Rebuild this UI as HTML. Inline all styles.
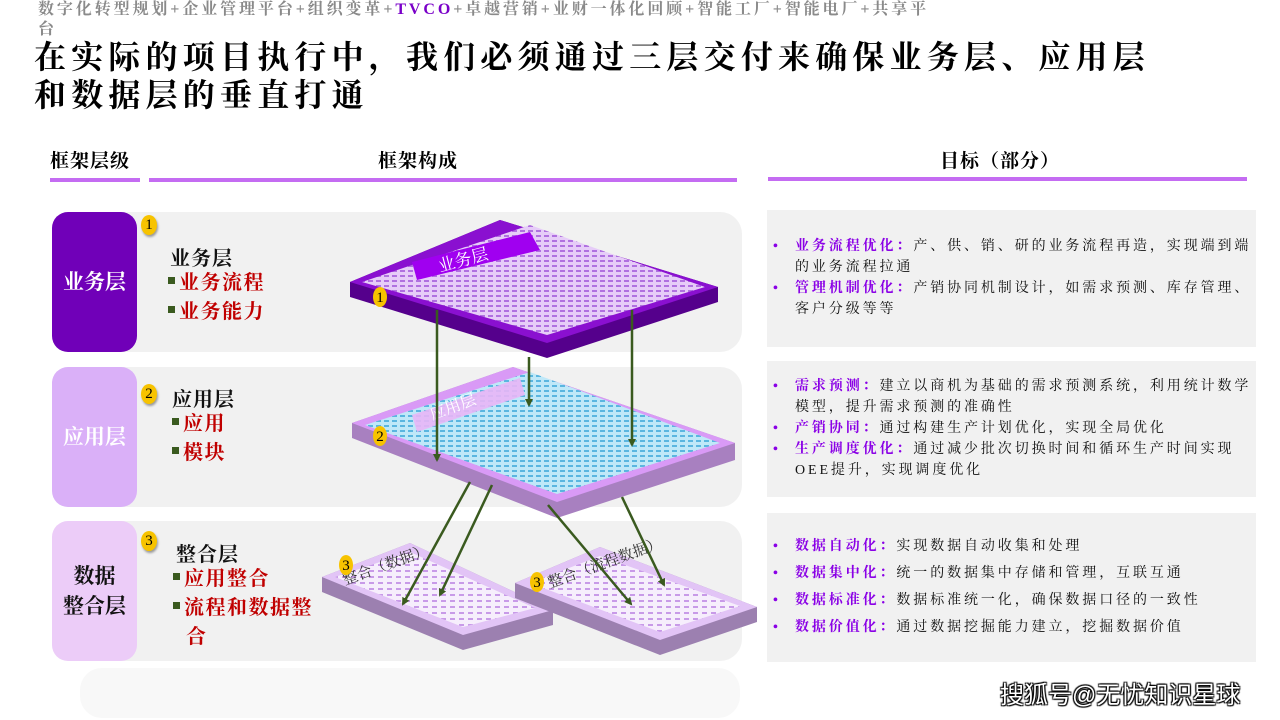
<!DOCTYPE html>
<html><head><meta charset="utf-8"><style>
body{margin:0;width:1280px;height:720px;background:#fff;position:relative;overflow:hidden;font-family:"Liberation Serif","Noto Serif CJK SC",serif;}
.a{position:absolute;}
.sub{left:38px;top:0;width:905px;font-size:16px;line-height:20px;color:#8a8a8a;font-weight:bold;letter-spacing:2.9px}
.title{left:34px;top:38px;font-size:32px;line-height:38px;font-weight:bold;color:#000;letter-spacing:5.2px}
.hd{font-size:19px;font-weight:bold;color:#000;top:146px;letter-spacing:1px}
.line{height:4px;background:#c46cf2;top:178px}
.panel{background:#f1f1f1;border-radius:22px;left:60px;width:682px;height:140px}
.lb{left:52px;width:85px;height:140px;border-radius:16px;display:flex;align-items:center;justify-content:center;text-align:center;font-size:21px;font-weight:bold;line-height:30px}
.badge{width:16px;height:20px;border-radius:50%;background:#f7c300;font-size:15px;line-height:20px;text-align:center;color:#000;font-family:"Liberation Serif",serif;box-shadow:1px 2px 2px #999}
.ttl{font-size:20px;font-weight:bold;color:#111;letter-spacing:1px}
.it{font-size:20px;font-weight:bold;color:#c00000;line-height:29px;letter-spacing:1.5px}
.it i{display:inline-block;width:7px;height:7px;background:#3a5a1f;margin-right:4px;vertical-align:middle;position:relative;top:-4px}
.rb{left:767px;width:489px;background:#f1f1f1;font-size:14px;line-height:21px;color:#111;letter-spacing:2.9px}
.rb ul{margin:0;padding:0 0 0 28px;list-style:none}
.rb li{position:relative;margin-bottom:0}
.rb li:before{content:"•";position:absolute;left:-22px;color:#8a00e6;font-weight:bold}
.rb b{color:#8a00e6}
</style></head><body>
<div class="a sub">数字化转型规划+企业管理平台+组织变革+<span style="color:#7a00c8">TVCO</span>+卓越营销+业财一体化回顾+智能工厂+智能电厂+共享平台</div>
<div class="a title">在实际的项目执行中，我们必须通过三层交付来确保业务层、应用层<br>和数据层的垂直打通</div>
<div class="a hd" style="left:50px">框架层级</div>
<div class="a hd" style="left:378px">框架构成</div>
<div class="a hd" style="left:940px">目标（部分）</div>
<div class="a line" style="left:50px;width:90px"></div>
<div class="a line" style="left:149px;width:588px"></div>
<div class="a line" style="left:768px;width:479px;top:177px"></div>

<div class="a panel" style="top:212px"></div>
<div class="a panel" style="top:367px"></div>
<div class="a panel" style="top:521px"></div>
<div class="a panel" style="top:668px;height:50px;left:80px;width:660px;background:#f8f8f8"></div>

<div class="a lb" style="top:212px;background:#7000b8;color:#fff">业务层</div>
<div class="a lb" style="top:367px;background:#dab0f8;color:#fff">应用层</div>
<div class="a lb" style="top:521px;background:#ecccf8;color:#111">数据<br>整合层</div>

<div class="a badge" style="left:141px;top:215px">1</div>
<div class="a badge" style="left:141px;top:384px">2</div>
<div class="a badge" style="left:141px;top:531px">3</div>

<div class="a ttl" style="left:170px;top:242px">业务层</div>
<div class="a it" style="left:168px;top:269px"><i></i>业务流程<br><i></i>业务能力</div>
<div class="a ttl" style="left:172px;top:383px">应用层</div>
<div class="a it" style="left:172px;top:410px"><i></i>应用<br><i></i>模块</div>
<div class="a ttl" style="left:176px;top:538px">整合层</div>
<div class="a it" style="left:173px;top:565px;width:160px"><i></i>应用整合<br><i></i>流程和数据整<br>&nbsp;&nbsp;合</div>

<svg class="a" style="left:0;top:0" width="1280" height="720">
<defs>
<pattern id="p1" width="8" height="5" patternUnits="userSpaceOnUse"><rect width="8" height="5" fill="#e6ccf8"/><rect width="5" height="2" fill="#b070e0"/></pattern>
<pattern id="p2" width="8" height="5" patternUnits="userSpaceOnUse"><rect width="8" height="5" fill="#bfe8f8"/><rect width="5" height="2" fill="#5ab6e0"/></pattern>
<pattern id="p3" width="9" height="6" patternUnits="userSpaceOnUse"><rect width="9" height="6" fill="#f6eefc"/><rect width="5" height="2" fill="#c89ae8"/></pattern>
<marker id="ar" markerWidth="8" markerHeight="8" refX="6" refY="4" orient="auto" markerUnits="userSpaceOnUse"><path d="M0,0 L8,4 L0,8 z" fill="#3a5a1f"/></marker>
</defs>
<polygon points="322,577 410,543 553,610 553,625 463,650 322,592" fill="#9c80b0"/>
<polygon points="322,577 410,543 553,610 463,635" fill="#e2c4f6"/>
<polygon points="335,577 410,552 535,608 463,627" fill="url(#p3)"/>
<polygon points="515,583 600,547 757,607 757,622 660,655 515,598" fill="#9c80b0"/>
<polygon points="515,583 600,547 757,607 660,640" fill="#e2c4f6"/>
<polygon points="530,583 600,556 740,606 660,632" fill="url(#p3)"/>
<text x="345" y="585" font-size="15" transform="rotate(-20 345 585)" fill="#333">整合（数据）</text>
<text x="550" y="588" font-size="15" transform="rotate(-20 550 588)" fill="#333">整合（流程数据）</text>
<polygon points="352,423 513,367 735,443 735,460 557,518 352,438" fill="#a880c0"/>
<polygon points="352,423 513,367 735,443 557,502" fill="#d99af6"/>
<polygon points="365,425 530,372 720,443 557,494" fill="url(#p2)"/>
<polygon points="412,415 520,378 525,395 417,432" fill="#e8b6f6" opacity="0.9"/>
<text x="432" y="420" font-size="16" fill="#fff" transform="rotate(-20 432 420)">应用层</text>
<polygon points="350,282 500,220 718,287 718,302 547,358 350,297" fill="#55008c"/>
<polygon points="350,282 500,220 718,287 547,343" fill="#8a10d0"/>
<polygon points="362,282 530,225 705,287 547,335" fill="url(#p1)"/>
<polygon points="412,262 530,232 540,250 417,280" fill="#a000f0"/>
<text x="440" y="272" font-size="17" fill="#fff" transform="rotate(-15 440 272)">业务层</text>
<g font-family="Liberation Serif" font-size="15" text-anchor="middle">
<ellipse cx="380" cy="297" rx="7" ry="10" fill="#f7c300"/><text x="380" y="302">1</text>
<ellipse cx="380" cy="436" rx="7" ry="10" fill="#f7c300"/><text x="380" y="441">2</text>
<ellipse cx="346" cy="565" rx="7" ry="10" fill="#f7c300"/><text x="346" y="570">3</text>
<ellipse cx="537" cy="582" rx="7" ry="10" fill="#f7c300"/><text x="537" y="587">3</text>
</g>
<g stroke="#3a5a1f" stroke-width="2.5" marker-end="url(#ar)">
<line x1="437" y1="310" x2="437" y2="460"/>
<line x1="529" y1="357" x2="529" y2="405"/>
<line x1="632" y1="310" x2="632" y2="445"/>
<line x1="470" y1="482" x2="403" y2="604"/>
<line x1="492" y1="485" x2="440" y2="595"/>
<line x1="548" y1="505" x2="631" y2="604"/>
<line x1="622" y1="497" x2="664" y2="585"/>
</g>
</svg>

<div class="a rb" style="top:210px;height:137px"><ul style="padding-top:26px"><li><b>业务流程优化：</b>产、供、销、研的业务流程再造，实现端到端的业务流程拉通</li><li><b>管理机制优化：</b>产销协同机制设计，如需求预测、库存管理、客户分级等等</li></ul></div>
<div class="a rb" style="top:361px;height:136px"><ul style="padding-top:15px"><li><b>需求预测：</b>建立以商机为基础的需求预测系统，利用统计数学模型，提升需求预测的准确性</li><li><b>产销协同：</b>通过构建生产计划优化，实现全局优化</li><li><b>生产调度优化：</b>通过减少批次切换时间和循环生产时间实现OEE提升，实现调度优化</li></ul></div>
<div class="a rb" style="top:513px;height:149px"><ul style="padding-top:20px;line-height:27px"><li><b>数据自动化：</b>实现数据自动收集和处理</li><li><b>数据集中化：</b>统一的数据集中存储和管理，互联互通</li><li><b>数据标准化：</b>数据标准统一化，确保数据口径的一致性</li><li><b>数据价值化：</b>通过数据挖掘能力建立，挖掘数据价值</li></ul></div>

<div class="a" style="left:1000px;top:675px;font-family:'Liberation Sans','Noto Sans CJK SC',sans-serif;font-size:24px;color:#fff;text-shadow:1px 1px 1px #000,-1px -1px 1px #000,1px -1px 1px #000,-1px 1px 1px #000">搜狐号@无忧知识星球</div>
</body></html>
